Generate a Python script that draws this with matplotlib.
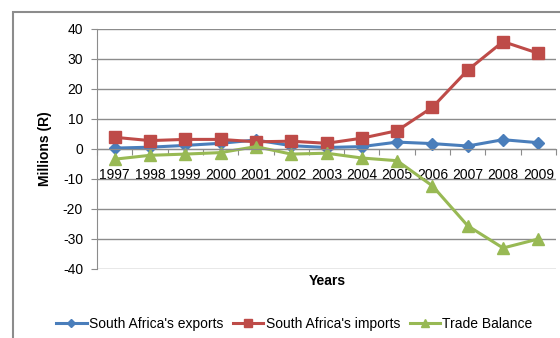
import matplotlib
matplotlib.use("Agg")
from matplotlib import pyplot as plt
from matplotlib.patches import Rectangle
import numpy as np

years = ["1997", "1998", "1999", "2000", "2001", "2002", "2003",
         "2004", "2005", "2006", "2007", "2008", "2009"]
exports = [0.3, 0.6, 1.2, 1.9, 3.0, 1.1, 0.5, 0.8, 2.3, 1.8, 1.0, 3.1, 2.1]
imports = [3.9, 2.8, 3.2, 3.2, 2.4, 2.6, 1.9, 3.6, 6.1, 13.9, 26.3, 35.8, 31.9]
balance = [-3.4, -2.1, -1.7, -1.2, 0.8, -1.7, -1.4, -3.0, -3.9, -12.3, -25.6, -33.0, -30.0]

plt.rcParams['font.family'] = ['Liberation Sans', 'DejaVu Sans']
plt.rcParams['axes.unicode_minus'] = False

fig = plt.figure(figsize=(5.6, 3.38), dpi=100)
ax = fig.add_axes([97/560, 1-269/338, (556-97)/560, 240/338])

# outer chart frame (right and bottom edges fall outside the image)
fig.patches.append(Rectangle((13/560, -0.05), 1.2, 1-12/338+0.05, transform=fig.transFigure,
                             fill=False, edgecolor="#8c8c8c", lw=1.5))

x = np.arange(len(years))
ax.plot(x, exports, color="#4a7ebb", lw=2.2, marker="D", ms=6, label="South Africa's exports")
ax.plot(x, imports, color="#be4b48", lw=2.2, marker="s", ms=8, label="South Africa's imports")
ax.plot(x, balance, color="#98b954", lw=2.2, marker="^", ms=8, label="Trade Balance")

ax.set_xlim(-0.5, len(years) - 0.5)
ax.set_ylim(-40, 40)
ax.set_yticks(range(-40, 41, 10))
ax.yaxis.grid(True, color="#8c8c8c", lw=1)
ax.set_axisbelow(True)
ax.tick_params(axis="y", length=4, color="#8c8c8c", labelsize=10, pad=6)

# category axis sits on the zero line
ax.spines["bottom"].set_position(("data", 0))
ax.spines["bottom"].set_color("#8c8c8c")
ax.spines["left"].set_color("#8c8c8c")
ax.spines["top"].set_visible(False)
ax.spines["right"].set_visible(False)
ax.set_xticks(np.arange(-0.5, len(years), 1.0))
ax.set_xticklabels([])
ax.set_xticks(x, minor=True)
ax.set_xticklabels(years, minor=True, fontsize=10)
ax.tick_params(axis="x", which="major", length=4, color="#8c8c8c", direction="out")
ax.tick_params(axis="x", which="minor", length=0, pad=14)

ax.set_ylabel("Millions (R)", fontsize=10, fontweight="bold", labelpad=8)
fig.text(327/560, 1-281/338, "Years", fontsize=10, fontweight="bold", ha="center", va="center")

ax.legend(loc="center", bbox_to_anchor=(0.43, 1-(324-29)/240), ncol=3, frameon=False,
          fontsize=10, handlelength=2.2, columnspacing=0.7, handletextpad=0.15, markerscale=0.7)

fig.savefig("out.png", dpi=100)
